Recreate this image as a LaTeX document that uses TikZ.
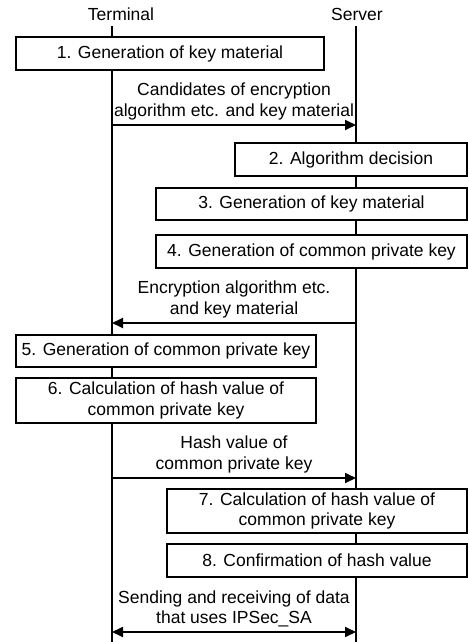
\documentclass[tikz,border=0pt]{standalone}
\usepackage{fontspec}
\setmainfont{Liberation Sans}
\usetikzlibrary{arrows.meta}

\begin{document}
\begin{tikzpicture}[x=1pt,y=-1pt,
    every node/.style={font=\fontsize{17.5}{20.5}\selectfont},
    stepbox/.style={draw,line width=1.3pt,fill=white,inner sep=0pt,align=center},
    lifeline/.style={line width=1.3pt},
    msg/.style={line width=1.8pt,-{Triangle[length=11pt,width=10pt]}},
    msglabel/.style={align=center,above,inner sep=4pt}]
    \useasboundingbox (0,0) rectangle (468,642);
    \node (terminal) at (121,14) {Terminal};
    \node (server) at (357,14) {Server};
    \coordinate (termtop) at (112,26);
    \coordinate (termbot) at (112,642);
    \coordinate (servtop) at (356,26);
    \coordinate (servbot) at (356,642);
    \draw[lifeline] (termtop) -- (termbot);
    \draw[lifeline] (servtop) -- (servbot);
    \node[stepbox,minimum width=308pt,minimum height=33pt] (gen1) at (170,53.5) {1. Generation of key material};
    \node[stepbox,minimum width=232pt,minimum height=33pt] (algo) at (351,159.5) {2. Algorithm decision};
    \node[stepbox,minimum width=311pt,minimum height=32pt] (gen3) at (311.5,204) {3. Generation of key material};
    \node[stepbox,minimum width=311pt,minimum height=33pt] (common4) at (311.5,251.5) {4. Generation of common private key};
    \node[stepbox,minimum width=300pt,minimum height=32pt] (common5) at (166,351) {5. Generation of common private key};
    \node[stepbox,minimum width=300pt,minimum height=45pt] (hash6) at (166,400.5) {6. Calculation of hash value of\\common private key};
    \node[stepbox,minimum width=300pt,minimum height=44pt] (hash7) at (317,511) {7. Calculation of hash value of\\common private key};
    \node[stepbox,minimum width=300pt,minimum height=33pt] (confirm) at (317,560.5) {8. Confirmation of hash value};
    \coordinate (cand t) at (112,125);
    \coordinate (cand s) at (356,125);
    \coordinate (algo t) at (112,323);
    \coordinate (algo s) at (356,323);
    \coordinate (hash t) at (112,478);
    \coordinate (hash s) at (356,478);
    \coordinate (data t) at (112,632);
    \coordinate (data s) at (356,632);
    \draw[msg] (cand t) -- (cand s) node[msglabel,midway] {Candidates of encryption\\algorithm etc. and key material};
    \draw[msg] (algo s) -- (algo t) node[msglabel,midway] {Encryption algorithm etc.\\and key material};
    \draw[msg] (hash t) -- (hash s) node[msglabel,midway] {Hash value of\\common private key};
    \draw[msg,{Triangle[length=11pt,width=10pt]}-{Triangle[length=11pt,width=10pt]}] (data t) -- (data s) node[msglabel,midway] {Sending and receiving of data\\that uses IPSec\_SA};
\end{tikzpicture}
\end{document}
